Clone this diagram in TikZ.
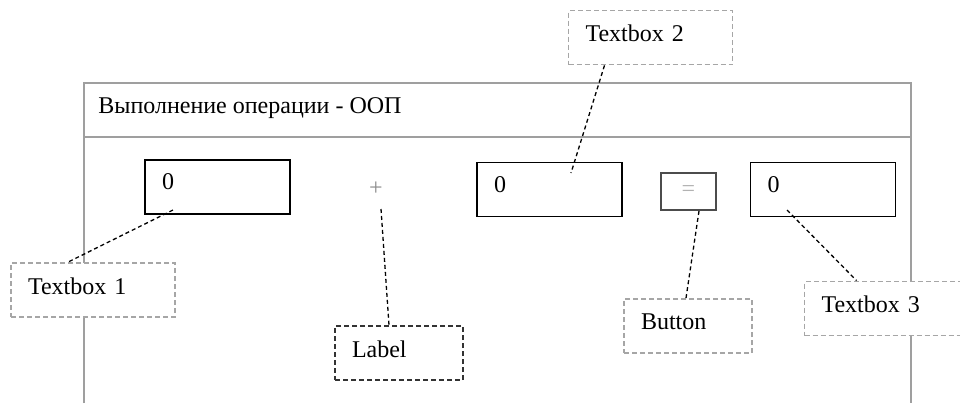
\documentclass[tikz,border=0pt]{standalone}
\usepackage{fontspec}
\setmainfont{Liberation Serif}
\usetikzlibrary{positioning}
\usetikzlibrary{calc}

\begin{document}
\begin{tikzpicture}[
    x=0.5pt, y=-0.5pt,
    font=\fontsize{12}{14}\selectfont,
    frame/.style={draw=gray!75, line width=1.1pt},
    field/.style={draw=black, line width=0.75pt, inner xsep=8.5pt,
        text width=55.5pt, minimum height=27pt, text depth=5pt, align=left},
    btn/.style={draw=black!70, line width=1pt, minimum width=27.5pt,
        minimum height=18.5pt, text=gray!60, inner sep=0pt},
    callout/.style={draw=gray!70, fill=white, line width=0.9pt,
        dash pattern=on 2.5pt off 1.5pt, inner xsep=8.5pt, text width=65pt,
        minimum height=27pt, text depth=4pt, align=left},
    leader/.style={draw=black, line width=0.65pt, dash pattern=on 2pt off 1.5pt}]
    \useasboundingbox (0,0) rectangle (960,403);

    % Finestra
    \draw[frame] (84,403) |- (911,83) -- (911,403);
    \draw[frame] (84,137) -- (911,137);
    \node[anchor=base west, inner sep=0pt] (title) at (98,113) {Выполнение операции - ООП};

    % Campi e pulsante
    \node[field] (tbA) at (217.5,187) {0};
    \node[field] (tbB) at (549.5,189.5) {0};
    \node[field] (tbC) at (823,189.5) {0};
    \node[text=gray!90, inner sep=0pt] (plus) at (376,189) {+};
    \node[btn] (eq) at (688.5,191.5) {=};

    % Punte dei richiami
    \coordinate (pA) at (173,210);
    \coordinate (pB) at (571,173);
    \coordinate (pL) at (381,209);
    \coordinate (pC) at (787,210);

    % Richiami
    \node[callout] (cb1) at (93,290) {Textbox 1};
    \node[callout] (cb2) at (650.5,37.5) {Textbox 2};
    \node[callout, draw=black!80, text width=47pt] (cbL) at (399,353) {Label};
    \node[callout, text width=47pt] (cbB) at (688,326) {Button};
    \node[callout] (cb3) at (886.5,308.5) {Textbox 3};

    \draw[leader] (pA) -- ($(cb1.north)+(-25,0)$);
    \draw[leader] ($(cb2.south)+(-46,0)$) -- (pB);
    \draw[leader] (pL) -- ($(cbL.north)+(-10,0)$);
    \draw[leader] ($(eq.south)+(10.5,0)$) -- ($(cbB.north)+(-2,0)$);
    \draw[leader] (pC) -- ($(cb3.north west)+(53,0)$);
\end{tikzpicture}
\end{document}
